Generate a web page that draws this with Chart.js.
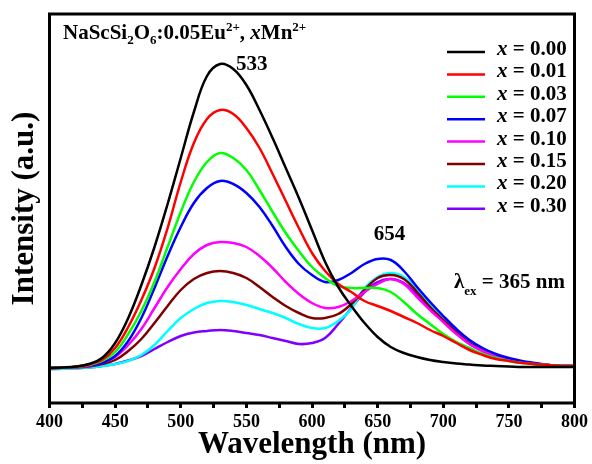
<!DOCTYPE html>
<html>
<head>
<meta charset="utf-8">
<script src="https://cdn.jsdelivr.net/npm/chart.js@4.4.1/dist/chart.umd.min.js"></script>
<style>
html,body{margin:0;padding:0;background:#fff;}
canvas{display:block;}
</style>
</head>
<body>
<canvas id="c" width="592" height="464"></canvas>
<script>
// ---- data ----
const wavelengths = [400,410,420,430,440,450,460,470,480,490,500,510,520,530,540,550,560,570,580,590,600,610,620,630,640,650,660,670,680,690,700,710,720,730,740,750,760,770,780,790,800];
const xTickLabels = [400,450,500,550,600,650,700,750,800];
const seriesLabels = ['0.00','0.01','0.03','0.07','0.10','0.15','0.20','0.30'];

const x000 = [0,0.5,1.5,4,10,25,50,83,121,164,210,256,292,304,299,283,258,230,200,170,138,106,81,62,45,31,21,15,11,8,6,4.5,3.5,2.5,2,1.5,1,1,1,1,1];
const x001 = [0,0.4,1.3,3.5,8,20,41,68,100,140,186,225,249,258,254,240,220,194,167,140,115,97,84,76,67,62,57,51,45,38,32,25,18,13,9,7,5,4,3,2,2];
const x003 = [0,0.3,1,3,7,16,34,57,86,121,156,186,206,215,210,198,178,156,135,117,101,90,82,80,80,80,76,66,54,44,34,26,20,14,10,7,5,4,3,2,2];
const x007 = [0,0.3,1,2.5,5,12,27,50,80,112,141,165,180,187,184,175,161,142,121,104,93,86,88,95,104,109,108,97,81,66,52,39,28,20,14,10,7,5,3,2,2];
const x010 = [0,0.2,0.8,2,5,11,23,39,60,81,99,114,123,126,125,121,112,100,86,74,65,60,61,67,76,84,89,84,71,58,46,34,24,17,12,8,6,4,3,2,2];
const x015 = [0,0.2,0.6,1.5,4,8,17,29,45,62,78,89,95,97,95,90,81,71,62,55,50,50,54,64,78,90,93,89,76,61,48,36,25,18,12,8,6,4,3,2,2];
const x020 = [-1,-0.8,-0.3,0.5,2,4,7,13,23,37,50,59,65,67,66,63,59,55,50,44,40,40,47,59,80,91,95,91,79,63,50,37,26,19,13,9,6,4,3,2,2];
const x030 = [-1,-0.8,-0.3,0.5,2,4,7.5,12,19,26,32,35.5,37,38,37,35,33,30,27,24,25,30,44,60,76,86,89,85,73,59,47,35,24,17,12,8,6,4,3,2,2];

const seriesValues = [x000,x001,x003,x007,x010,x015,x020,x030];
const seriesColors = ['#000000','#ff0000','#00ff00','#0000ff','#ff00ff','#800000','#00ffff','#8000ff'];

const SERIF = '"Liberation Serif","Times New Roman",serif';

const datasets = seriesValues.map((vals, i) => ({
  label: 'x = ' + seriesLabels[i],
  data: wavelengths.map((w, j) => ({x: w, y: vals[j]})),
  borderColor: seriesColors[i],
  backgroundColor: seriesColors[i],
  borderWidth: 2.5,
  pointRadius: 0,
  fill: false,
  tension: 0.4
}));

function drawRuns(ctx, runs, x, y) {
  for (const r of runs) {
    const size = r.size || 21;
    const style = r.italic ? 'italic bold ' : 'bold ';
    ctx.font = style + size + 'px ' + SERIF;
    const dy = r.dy || 0;
    ctx.fillText(r.t, x, y + dy);
    x += ctx.measureText(r.t).width + (r.kern || 0);
  }
  return x;
}

const framePlugin = {
  id: 'frame',
  afterDraw(chart) {
    const {ctx, chartArea: a} = chart;
    ctx.save();
    ctx.strokeStyle = '#000';
    ctx.lineWidth = 3;
    ctx.strokeRect(a.left, a.top, a.right - a.left, a.bottom - a.top);
    ctx.restore();
  }
};

const textPlugin = {
  id: 'texts',
  afterDraw(chart) {
    const {ctx} = chart;
    const xs = chart.scales.x, ys = chart.scales.y;
    ctx.save();
    ctx.fillStyle = '#000';
    ctx.textAlign = 'left';
    ctx.textBaseline = 'alphabetic';
    // title
    drawRuns(ctx, [
      {t:'NaScSi'}, {t:'2', size:13, dy:5}, {t:'O'}, {t:'6', size:13, dy:5},
      {t:':0.05Eu'}, {t:'2+', size:13, dy:-8}, {t:', '}, {t:'x', italic:true},
      {t:'Mn'}, {t:'2+', size:13, dy:-8}
    ], 63, 39);
    // peak labels
    ctx.textAlign = 'center';
    ctx.font = 'bold 21px ' + SERIF;
    ctx.fillText('533', xs.getPixelForValue(554), ys.getPixelForValue(298));
    ctx.fillText('654', xs.getPixelForValue(659), ys.getPixelForValue(128));
    ctx.textAlign = 'left';
    // excitation
    let px = drawRuns(ctx, [{t:'λ'}], 454, 288);
    px = drawRuns(ctx, [{t:'ex', size:13, dy:7}], px, 288);
    drawRuns(ctx, [{t:' = 365 nm'}], px, 288);
    // legend
    for (let i = 0; i < seriesLabels.length; i++) {
      const y = 52 + i * 22.4;
      ctx.strokeStyle = seriesColors[i];
      ctx.lineWidth = 2.5;
      ctx.beginPath();
      ctx.moveTo(447, y);
      ctx.lineTo(485, y);
      ctx.stroke();
      drawRuns(ctx, [{t:'x', italic:true}, {t:' = ' + seriesLabels[i]}], 497, y + 3);
    }
    ctx.restore();
  }
};

new Chart(document.getElementById('c'), {
  type: 'line',
  data: {datasets},
  options: {
    responsive: false,
    animation: false,
    devicePixelRatio: 1,
    layout: {padding: {top: 14, right: 15.5, left: 0, bottom: 0}},
    plugins: {legend: {display: false}, tooltip: {enabled: false}},
    scales: {
      x: {
        type: 'linear',
        min: 400, max: 800,
        afterFit(s) { s.height = 61; },
        border: {display: false},
        grid: {drawOnChartArea: false, drawTicks: true, tickLength: 5, tickWidth: 3, tickColor: '#000', color: '#000'},
        ticks: {
          stepSize: 25, autoSkip: false, maxRotation: 0, padding: 4, color: '#000',
          font: {family: SERIF, size: 18, weight: 'bold'},
          callback: v => xTickLabels.includes(v) ? String(v) : ''
        },
        title: {display: true, text: 'Wavelength (nm)', color: '#000', font: {family: SERIF, size: 31, weight: 'bold'}, padding: {top: 0, bottom: 0}}
      },
      y: {
        min: -35, max: 354,
        afterFit(s) { s.width = 49.5; },
        border: {display: false},
        grid: {display: false},
        ticks: {display: false},
        title: {display: true, text: 'Intensity (a.u.)', color: '#000', font: {family: SERIF, size: 31, weight: 'bold'}, padding: {top: 6, bottom: 0}}
      }
    }
  },
  plugins: [framePlugin, textPlugin]
});
</script>
</body>
</html>
